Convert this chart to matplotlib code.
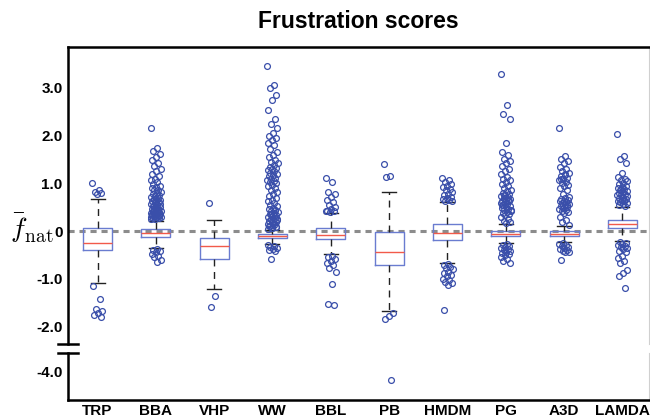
import numpy as np
import matplotlib
matplotlib.use("Agg")
import matplotlib.pyplot as plt
from matplotlib.lines import Line2D

plt.rcParams['font.family'] = ['Liberation Sans', 'DejaVu Sans']
plt.rcParams['mathtext.fontset'] = 'cm'

categories = ['TRP', 'BBA', 'VHP', 'WW', 'BBL', 'PB', 'HMDM', 'PG', 'A3D', 'LAMDA']
q1 = [-0.40, -0.13, -0.58, -0.15, -0.17, -0.71, -0.195, -0.11, -0.105, 0.06]
medians = [-0.25, -0.04, -0.32, -0.105, -0.09, -0.44, -0.04, -0.055, -0.055, 0.15]
q3 = [0.06, 0.035, -0.14, -0.06, 0.06, -0.03, 0.14, -0.01, -0.01, 0.23]
whislo = [-1.08, -0.36, -1.21, -0.27, -0.48, -1.67, -0.68, -0.25, -0.22, -0.20]
whishi = [0.67, 0.22, 0.23, 0.03, 0.38, 0.81, 0.60, 0.15, 0.11, 0.50]

fliers_TRP = [1.00, 0.85, 0.82, 0.80, 0.78, -1.15, -1.43, -1.64, -1.68, -1.72, -1.76, -1.80]
fliers_BBA = [2.17, 1.75, 1.68, 1.62, 1.55, 1.48, 1.42, 1.36, 1.30, 1.25, 1.20, 1.15,
              1.10, 1.06, 1.02, 0.98, 0.95, 0.92, 0.90, 0.87, 0.85, 0.82, 0.80, 0.78,
              0.76, 0.74, 0.72, 0.70, 0.68, 0.66, 0.64, 0.62, 0.60, 0.58, 0.56, 0.54,
              0.52, 0.50, 0.48, 0.46, 0.45, 0.44, 0.43, 0.42, 0.41, 0.40, 0.39, 0.38,
              0.37, 0.36, 0.35, 0.34, 0.33, 0.32, 0.31, 0.30, 0.29, 0.28, 0.27, 0.26,
              0.25, 0.47, 0.53, 0.57, 0.61, 0.36, 0.34, 0.31, 0.29,
              -0.38, -0.40, -0.42, -0.45, -0.48, -0.52, -0.55, -0.60, -0.65]
fliers_VHP = [0.59, -1.37, -1.60]
fliers_WW = [3.46, 3.07, 3.00, 2.85, 2.75, 2.54, 2.34, 2.24, 2.17, 2.05, 2.00, 1.95,
             1.90, 1.85, 1.80, 1.72, 1.65, 1.60, 1.55, 1.50, 1.45, 1.42, 1.38, 1.35,
             1.32, 1.30, 1.28, 1.25, 1.22, 1.20, 1.18, 1.15, 1.12, 1.10, 1.08, 1.05,
             1.02, 1.00, 0.97, 0.94, 0.90, 0.86, 0.82, 0.78, 0.74, 0.70, 0.66, 0.62,
             0.58, 0.55, 0.52, 0.49, 0.46, 0.44, 0.42, 0.40, 0.38, 0.36, 0.34, 0.32,
             0.30, 0.28, 0.26, 0.24, 0.22, 0.20, 0.18, 0.16, 0.14, 0.12, 0.10, 0.08,
             0.06, 0.05, 0.45, 0.35, 0.25, 0.15, 0.11, 0.09, 0.07,
             -0.30, -0.32, -0.34, -0.36, -0.38, -0.40, -0.42, -0.59]
fliers_BBL = [1.11, 1.03, 0.82, 0.78, 0.72, 0.66, 0.60, 0.55, 0.50, 0.46, 0.43, 0.41,
              0.40, 0.42, -0.52, -0.55, -0.58, -0.62, -0.68, -0.72, -0.78, -0.85,
              -1.12, -1.53, -1.55]
fliers_PB = [1.41, 1.16, 1.13, -1.72, -1.78, -1.85, -4.19]
fliers_HMDM = [1.12, 1.07, 1.02, 0.98, 0.95, 0.92, 0.88, 0.85, 0.82, 0.78, 0.75, 0.72,
               0.70, 0.68, 0.66, 0.64, 0.63,
               -0.70, -0.72, -0.75, -0.78, -0.80, -0.85, -0.88, -0.92, -0.95, -1.00,
               -1.03, -1.06, -1.10, -1.13, -1.65]
fliers_PG = [3.29, 2.64, 2.45, 2.36, 1.84, 1.66, 1.60, 1.52, 1.46, 1.42, 1.36, 1.30,
             1.26, 1.20, 1.14, 1.10, 1.06, 1.03, 0.98, 0.94, 0.90, 0.86, 0.83, 0.80,
             0.78, 0.76, 0.74, 0.72, 0.70, 0.68, 0.66, 0.64, 0.62, 0.60, 0.58, 0.56,
             0.54, 0.52, 0.50, 0.48, 0.46, 0.44, 0.42, 0.40, 0.38, 0.36, 0.34, 0.30,
             0.26, 0.22, 0.19, 0.17, 0.55, 0.65, 0.75, 0.45,
             -0.28, -0.30, -0.32, -0.34, -0.36, -0.38, -0.40, -0.42, -0.44, -0.46,
             -0.48, -0.50, -0.54, -0.58, -0.63, -0.67]
fliers_A3D = [2.17, 1.57, 1.52, 1.47, 1.42, 1.35, 1.30, 1.25, 1.22, 1.18, 1.15, 1.12,
              1.09, 1.06, 1.03, 1.00, 0.97, 0.94, 0.91, 0.85, 0.78, 0.72, 0.70, 0.68,
              0.66, 0.64, 0.62, 0.60, 0.58, 0.56, 0.54, 0.52, 0.50, 0.48, 0.46, 0.44,
              0.42, 0.40, 0.38, 0.30, 0.24, 0.18, 0.13, 1.20, 1.10, 0.55,
              -0.25, -0.27, -0.29, -0.31, -0.33, -0.35, -0.37, -0.39, -0.41, -0.43,
              -0.45, -0.61]
fliers_LAMDA = [2.03, 1.57, 1.52, 1.42, 1.21, 1.14, 1.10, 1.07, 1.04, 1.01, 0.98, 0.95,
                0.92, 0.90, 0.88, 0.86, 0.84, 0.82, 0.80, 0.78, 0.76, 0.74, 0.72, 0.70,
                0.68, 0.66, 0.64, 0.62, 0.60, 0.58, 0.56, 0.54, 0.52, 0.85, 0.75, 0.65,
                -0.24, -0.26, -0.28, -0.30, -0.32, -0.34, -0.36, -0.38, -0.41, -0.45,
                -0.52, -0.57, -0.62, -0.68, -0.82, -0.88, -0.95, -1.20]

fliers = [fliers_TRP, fliers_BBA, fliers_VHP, fliers_WW, fliers_BBL, fliers_PB,
          fliers_HMDM, fliers_PG, fliers_A3D, fliers_LAMDA]

box_color = '#6a7cd0'
flier_color = '#3a4faa'
median_color = '#f25a4a'

W, H = 650, 420
fig = plt.figure(figsize=(W / 100, H / 100), dpi=100)
left_px, right_px = 68, 649
ax = fig.add_axes([left_px / W, (H - 344) / H, (right_px - left_px) / W, (344 - 47) / H])
ax2 = fig.add_axes([left_px / W, (H - 400) / H, (right_px - left_px) / W, (400 - 353) / H])

positions = np.arange(1, len(categories) + 1)
stats = []
for i, c in enumerate(categories):
    stats.append(dict(label=c, med=medians[i], q1=q1[i], q3=q3[i],
                      whislo=whislo[i], whishi=whishi[i], fliers=[]))


def draw(a):
    a.axhline(0, color='#8c8c8c', lw=2.2, ls=(0, (2.0, 1.6)), zorder=1)
    a.bxp(stats, positions=positions, widths=0.5, capwidths=0.24, showfliers=False,
          patch_artist=False,
          boxprops=dict(color=box_color, lw=1.0),
          medianprops=dict(color=median_color, lw=1.0),
          whiskerprops=dict(color='#222222', lw=1.0, ls=(0, (5, 4))),
          capprops=dict(color='#222222', lw=1.0))
    for i, vals in enumerate(fliers):
        n = len(vals)
        offs = ((np.arange(n) * 0.618034) % 1.0 - 0.5) * 0.18
        a.plot(positions[i] + offs, vals, ls='none', marker='o', ms=4.2,
               mfc='none', mec=flier_color, mew=0.9, zorder=3)
    a.set_xlim(0.494, 10.455)


draw(ax)
draw(ax2)

ax.set_ylim(-2.37, 3.86)
ax2.set_ylim(-4.61, -3.62)

ax.set_yticks([-2, -1, 0, 1, 2, 3])
ax.set_yticklabels(['-2.0', '-1.0', '0', '1.0', '2.0', '3.0'])
ax2.set_yticks([-4])
ax2.set_yticklabels(['-4.0'])
ax.set_xticks([])
ax2.set_xticks(positions)
ax2.set_xticklabels(categories)

for a in (ax, ax2):
    a.tick_params(axis='y', length=0, pad=4, labelsize=11)
    a.tick_params(axis='x', length=0, pad=3, labelsize=11)
    for lab in a.get_yticklabels() + a.get_xticklabels():
        lab.set_fontweight('bold')
    a.spines['left'].set_linewidth(1.8)
    a.spines['right'].set_color('#d0d0d0')
    a.spines['right'].set_linewidth(0.8)

ax.spines['bottom'].set_visible(False)
ax.spines['top'].set_linewidth(1.8)
ax2.spines['top'].set_visible(False)
ax2.spines['bottom'].set_linewidth(1.8)

# axis break marks
for yy in (344, 353):
    fig.add_artist(Line2D([58 / W, 78 / W], [(H - yy) / H, (H - yy) / H],
                          color='black', lw=1.8))

fig.text((left_px + right_px) / 2 / W, 1 - 22 / H, 'Frustration scores',
         ha='center', va='center', fontsize=16.5, fontweight='bold')
fig.text(54 / W, (H - 228) / H, r'$\bar{f}_{\rm nat}$', ha='right', va='center',
         fontsize=20)

fig.savefig('out.png', dpi=100)
